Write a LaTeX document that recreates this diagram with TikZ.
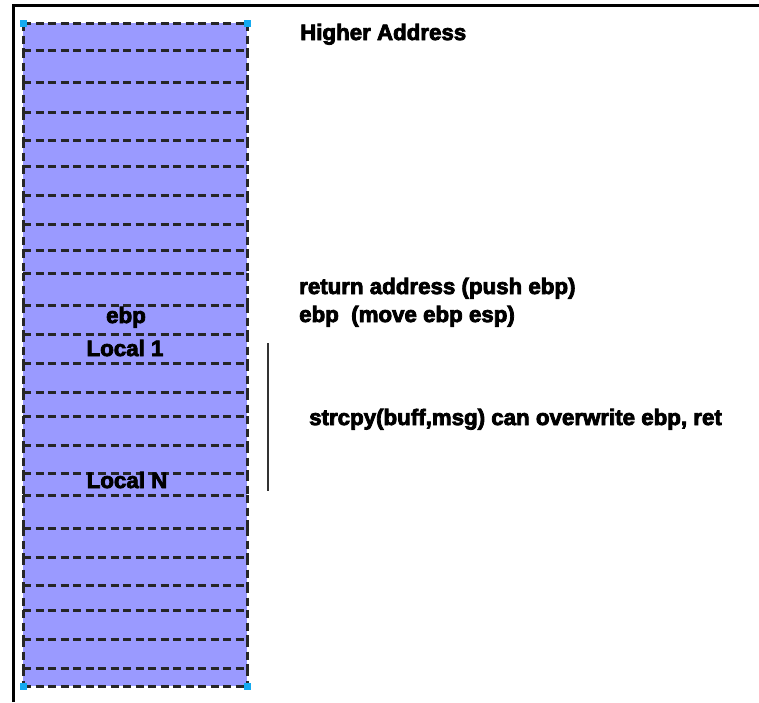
\documentclass[tikz,border=0pt]{standalone}
\usepackage{fontspec}
\setmainfont{Liberation Sans}[BoldFeatures={FakeBold=3.5}]
\usetikzlibrary{positioning}
\definecolor{stackblue}{RGB}{154,154,255}
\definecolor{handlecyan}{RGB}{20,170,240}

\begin{document}
\begin{tikzpicture}[x=1pt,y=-1pt,
    cell/.style={draw=black!85,dash pattern=on 8pt off 4.5pt,line width=3pt},
    txt/.style={font=\bfseries\fontsize{22.3}{25}\selectfont,inner sep=0pt},
    note/.style={txt,anchor=base west},
    slot/.style={txt,anchor=base},
    handle/.style={fill=handlecyan,minimum size=7pt,inner sep=0pt}]
   \useasboundingbox (0,0) rectangle (759,702);

   % frame
   \draw[line width=3pt] (13,702) -- (13,5) -- (759,5);

   % stack
   \fill[stackblue] (23,23) rectangle (247,686);
   \foreach \ya/\yb in {23/50,50/82,82/112,112/140,140/166,166/195,195/224,
                        224/250,250/273,273/305,305/334,334/363,363/392,
                        392/416,416/445,445/473,473/495,495/528,528/557,
                        557/585,585/610,610/639,639/668,668/686}{
     \draw[cell] (23,\ya) -- (247,\ya);
     \draw[cell] (23,\ya) -- (23,\yb);
     \draw[cell] (247,\ya) -- (247,\yb);
   }
   \draw[cell] (23,686) -- (247,686);

   % handles
   \node[handle] (h1) at (23,23) {};
   \node[handle] (h2) at (247,23) {};
   \node[handle] (h3) at (23,686) {};
   \node[handle] (h4) at (247,686) {};

   % slot labels
   \node[slot] (ebpcell) at (126,323) {ebp};
   \node[slot] (loc1) at (125,356) {Local 1};
   \node[slot] (locN) at (127,488) {Local N};

   % notes
   \node[note] (hi) at (300,40) {Higher Address};
   \node[note] (ret) at (299,294) {return address (push ebp)};
   \node[note] (ebpnote) at (299,322) {ebp\ \ (move ebp esp)};
   \node[note] (over) at (309,425) {strcpy(buff,msg) can overwrite ebp, ret};

   % buffer extent
   \coordinate (bartop) at (268,343);
   \coordinate (barbot) at (268,491);
   \draw[line width=1.6pt,black!80] (bartop) -- (barbot);
\end{tikzpicture}
\end{document}
